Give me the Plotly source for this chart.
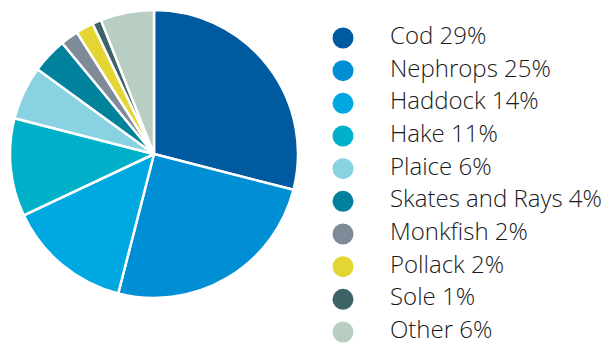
import plotly.graph_objects as go

species = ["Cod", "Nephrops", "Haddock", "Hake", "Plaice", "Skates and Rays",
           "Monkfish", "Pollack", "Sole", "Other"]
shares = [29, 25, 14, 11, 6, 4, 2, 2, 1, 6]
colors = ["#005A9F", "#008FD5", "#00A8E2", "#00B0C9", "#88D2E2", "#00829C",
          "#7E8A97", "#E3D633", "#3C6467", "#B8CEC2"]
labels = [f"{s} {v}%" for s, v in zip(species, shares)]

W, H = 612, 345

fig = go.Figure()
fig.add_trace(go.Pie(
    labels=species, values=shares, sort=False, direction="clockwise", rotation=0,
    marker=dict(colors=colors, line=dict(color="white", width=2.5)),
    textinfo="none", hoverinfo="label+percent", showlegend=False,
    domain=dict(x=[2/W, 290/W], y=[55/H, 343/H]),
))

idx = list(range(len(species)))
fig.add_trace(go.Scatter(
    x=[335]*len(idx), y=idx, mode="markers",
    marker=dict(size=21, color=colors, line=dict(width=0)),
    showlegend=False, hoverinfo="skip", xaxis="x", yaxis="y",
))
fig.add_trace(go.Scatter(
    x=[382]*len(idx), y=idx, mode="text", text=labels,
    textposition="middle right",
    textfont=dict(family="Open Sans", size=24, color="#1a1a1a", weight=300),
    showlegend=False, hoverinfo="skip", xaxis="x", yaxis="y",
))

fig.update_layout(
    width=W, height=H, margin=dict(l=0, r=0, t=0, b=0),
    paper_bgcolor="white", plot_bgcolor="rgba(0,0,0,0)",
    xaxis=dict(range=[0, W], visible=False, fixedrange=True, domain=[0, 1]),
    yaxis=dict(range=[9.642, -0.918], visible=False, fixedrange=True, domain=[0, 1]),
    showlegend=False,
)
fig.write_html("out.html")
